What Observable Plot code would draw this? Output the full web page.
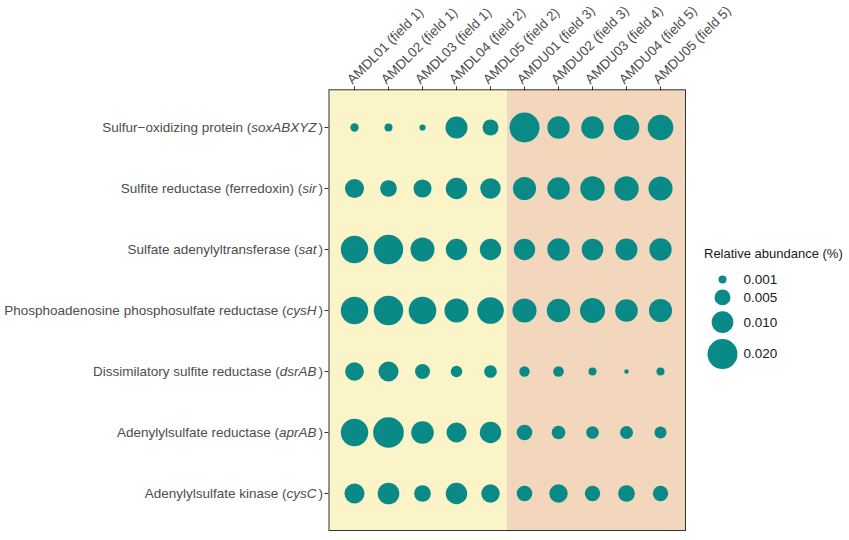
<!DOCTYPE html>
<html><head><meta charset="utf-8">
<script src="https://cdn.jsdelivr.net/npm/d3@7"></script>
<script src="https://cdn.jsdelivr.net/npm/@observablehq/plot@0.6"></script>
<style>
html,body{margin:0;padding:0;background:#fff;}
#wrap{position:relative;width:849px;height:540px;font-family:"Liberation Sans", Arial, sans-serif;}
#chart{position:absolute;left:0;top:0;}
#legend{position:absolute;left:690px;top:240px;}
#legtitle{position:absolute;left:704px;top:247px;font-size:13px;line-height:1;color:#1a1a1a;white-space:nowrap;}
</style></head>
<body><div id="wrap"><div id="chart"></div><div id="legtitle">Relative abundance (%)</div><div id="legend"></div></div>
<script>
const samples = ["AMDL01 (field 1)","AMDL02 (field 1)","AMDL03 (field 1)","AMDL04 (field 2)","AMDL05 (field 2)",
                 "AMDU01 (field 3)","AMDU02 (field 3)","AMDU03 (field 4)","AMDU04 (field 5)","AMDU05 (field 5)"];
const geneNames = ["Sulfur\u2212oxidizing protein","Sulfite reductase (ferredoxin)","Sulfate adenylyltransferase",
                   "Phosphoadenosine phosphosulfate reductase","Dissimilatory sulfite reductase",
                   "Adenylylsulfate reductase","Adenylylsulfate kinase"];
const geneCodes = ["soxABXYZ","sir","sat","cysH","dsrAB","aprAB","cysC"];

// relative abundance (%) per gene, in sample order
const sox   = [0.0011,0.0010,0.0005,0.0103,0.0051,0.0200,0.0107,0.0109,0.0143,0.0143];
const sir   = [0.0075,0.0056,0.0067,0.0097,0.0088,0.0114,0.0109,0.0129,0.0129,0.0125];
const sat   = [0.0165,0.0192,0.0125,0.0097,0.0097,0.0097,0.0107,0.0099,0.0103,0.0107];
const cysH  = [0.0165,0.0192,0.0168,0.0125,0.0155,0.0125,0.0118,0.0136,0.0109,0.0114];
const dsrAB = [0.0072,0.0084,0.0044,0.0024,0.0030,0.0019,0.0020,0.0010,0.0002,0.0010];
const aprAB = [0.0165,0.0209,0.0109,0.0084,0.0097,0.0048,0.0036,0.0030,0.0032,0.0027];
const cysC  = [0.0084,0.0099,0.0056,0.0097,0.0070,0.0048,0.0070,0.0047,0.0056,0.0047];

const legendValues = [0.001,0.005,0.010,0.020];
const legendLabels = ["0.001","0.005","0.010","0.020"];

const teal = "#0A8A87", yellow = "#FAF4C8", peach = "#F2D7BC";
const rows = [sox, sir, sat, cysH, dsrAB, aprAB, cysC];
const labels = geneNames.map((n,i)=>`${n} (${geneCodes[i]})`);
const data = [];
rows.forEach((vals, gi) => vals.forEach((v, si) => data.push({gene: labels[gi], sample: samples[si], value: v})));

const rOpts = {type:"sqrt", domain:[0,0.02], range:[0.84,15]};

const background = (index, scales, values, dims) => {
  const x = scales.x;
  const lastL = samples.filter(s=>s.startsWith("AMDL")).at(-1);
  const firstU = samples.find(s=>s.startsWith("AMDU"));
  const mid = (x(lastL)+x(firstU))/2;
  const left = dims.marginLeft, right = dims.width - dims.marginRight;
  const top = dims.marginTop, bottom = dims.height - dims.marginBottom;
  const g = d3.create("svg:g");
  g.append("rect").attr("x",left).attr("y",top).attr("width",mid-left).attr("height",bottom-top).attr("fill",yellow);
  g.append("rect").attr("x",mid).attr("y",top).attr("width",right-mid).attr("height",bottom-top).attr("fill",peach);
  return g.node();
};

const chart = Plot.plot({
  width:849, height:540, marginLeft:328.5, marginRight:164, marginTop:89.3, marginBottom:10,
  style:{fontFamily:"'Liberation Sans', Arial, sans-serif", fontSize:"13.5px", color:"#4d4d4d", background:"white"},
  x:{type:"point", domain:samples, padding:0.6, label:null},
  y:{type:"point", domain:labels, padding:0.6, label:null},
  r:rOpts,
  marks:[
    background,
    Plot.dot(data, {x:"sample", y:"gene", r:"value", fill:teal, stroke:"none"}),
    Plot.frame({stroke:"#333", strokeWidth:1}),
    Plot.axisX({anchor:"top", tickSize:4, label:null, text:null, stroke:"#333"}),
    Plot.axisX({anchor:"top", tickRotate:-45, tickSize:4, tickPadding:3, dx:-5, dy:-1, label:null, fontSize:13.5, stroke:"none"}),
    Plot.axisY({anchor:"left", tickSize:4, tickPadding:2, label:null, fontSize:13.5, stroke:"#333"})
  ]
});
document.getElementById("chart").appendChild(chart);

d3.select(chart).selectAll('g[aria-label="y-axis tick label"] text').each(function(){
  const t = d3.select(this); const i = labels.indexOf(t.text());
  if (i < 0) return;
  t.text(null);
  t.append("tspan").text(geneNames[i] + " (");
  t.append("tspan").attr("font-style","italic").text(geneCodes[i]);
  t.append("tspan").attr("dx", 2).text(")");
});

const rs = Plot.scale({r:rOpts});
const radii = legendValues.map(v => rs.apply(v));
const ys = []; let yy = 39;
radii.forEach((r,i) => { if (i > 0) yy += radii[i-1] + r + 6; ys.push(yy); });
const legend = Plot.plot({
  width:159, height:150, margin:0,
  style:{fontFamily:"'Liberation Sans', Arial, sans-serif", fontSize:"13.5px", background:"transparent"},
  x:{type:"identity"}, y:{type:"identity"}, r:rOpts,
  marks:[
    Plot.dot(legendValues, {x:32, y:(d,i)=>ys[i], r:d=>d, fill:teal, stroke:"none"}),
    Plot.text(legendLabels, {x:53, y:(d,i)=>ys[i], text:d=>d, textAnchor:"start", fontSize:13.5, fill:"#1a1a1a"})
  ]
});
document.getElementById("legend").appendChild(legend);
</script>
</body></html>
